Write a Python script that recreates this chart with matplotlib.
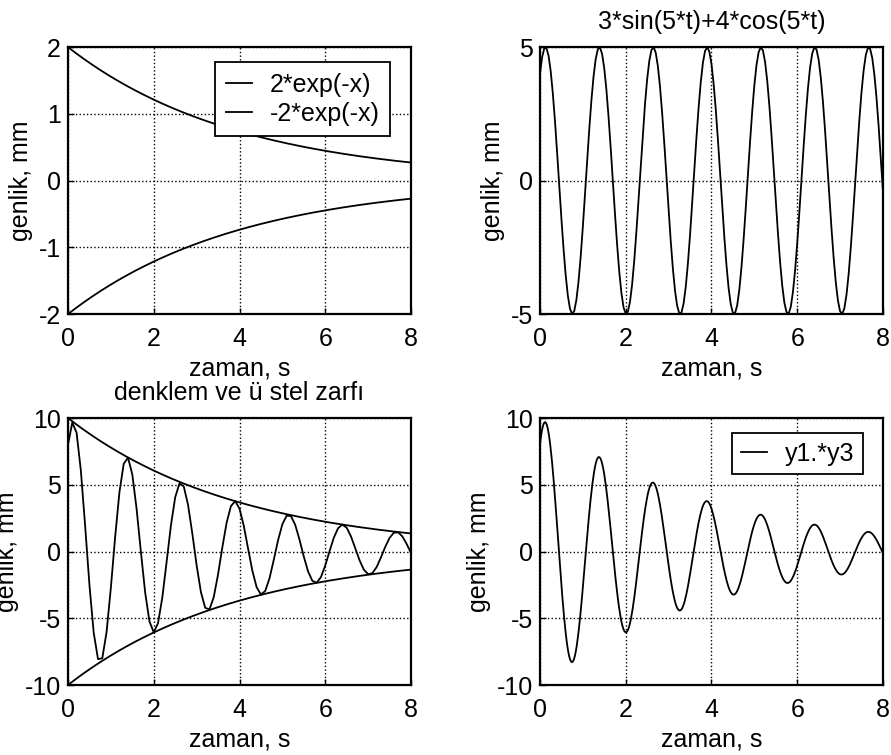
import numpy as np
import matplotlib
matplotlib.use('Agg')
import matplotlib.pyplot as plt

zarf_katsayi = 2.0        # 2*exp(...)
sonum = 0.25              # envelope goes 2 -> ~0.27 over 0..8
sin_katsayi = 3.0
cos_katsayi = 4.0
frekans = 5.0

t_ince = np.arange(0, 8.0001, 0.02)
t_orta = np.arange(0, 8.0001, 0.05)
t_kaba = np.arange(0, 8.0001, 0.1)

xticks = [0, 2, 4, 6, 8]
yticks_ust_sol = [-2, -1, 0, 1, 2]
yticks_ust_sag = [-5, 0, 5]
yticks_alt = [-10, -5, 0, 5, 10]

FS = 18
plt.rcParams['font.family'] = ['Liberation Sans', 'DejaVu Sans']
plt.rcParams['font.size'] = FS
plt.rcParams['axes.unicode_minus'] = False

fig = plt.figure(figsize=(8.91, 7.55), dpi=100)

w, h = 0.385, 0.3536
ax1 = fig.add_axes([0.0763, 0.584, w, h])
ax2 = fig.add_axes([0.606, 0.584, w, h])
ax3 = fig.add_axes([0.0763, 0.0927, w, h])
ax4 = fig.add_axes([0.606, 0.0927, w, h])


def stil(ax, yt):
    ax.set_xlim(0, 8)
    ax.set_xticks(xticks)
    ax.set_yticks(yt)
    ax.set_ylim(yt[0], yt[-1])
    ax.grid(True, color='black', linestyle=':', linewidth=1)
    ax.tick_params(direction='in', length=4, width=1, labelsize=FS)
    ax.tick_params(axis='x', pad=9)
    ax.tick_params(axis='y', pad=5)
    for s in ax.spines.values():
        s.set_linewidth(1.6)
    ax.set_xlabel('zaman, s', fontsize=FS, labelpad=4)
    ax.set_ylabel('genlik, mm', fontsize=FS, labelpad=4)


def y1(t):
    return zarf_katsayi * np.exp(-sonum * t)


def y3(t):
    return sin_katsayi * np.sin(frekans * t) + cos_katsayi * np.cos(frekans * t)


def lejant(ax, yer, aralik=0.12, kenar=0.35):
    leg = ax.legend(loc='upper right', bbox_to_anchor=yer, fancybox=False,
                    edgecolor='black', framealpha=1, handlelength=1.05,
                    handletextpad=0.7, borderpad=kenar, borderaxespad=0,
                    labelspacing=aralik, fontsize=FS)
    leg.get_frame().set_linewidth(1.3)


lw = 1.3
# ust sol
ax1.plot(t_ince, y1(t_ince), 'k-', lw=lw, label='2*exp(-x)')
ax1.plot(t_ince, -y1(t_ince), 'k-', lw=lw, label='-2*exp(-x)')
stil(ax1, yticks_ust_sol)
lejant(ax1, (0.939, 0.944), aralik=0.2, kenar=0.42)

# ust sag
ax2.plot(t_orta, y3(t_orta), 'k-', lw=lw)
stil(ax2, yticks_ust_sag)
ax2.set_title('3*sin(5*t)+4*cos(5*t)', fontsize=FS, pad=13)

# alt sol
zarf = 5 * y1(t_ince)
ax3.plot(t_kaba, y1(t_kaba) * y3(t_kaba), 'k-', lw=lw)
ax3.plot(t_ince, zarf, 'k-', lw=lw)
ax3.plot(t_ince, -zarf, 'k-', lw=lw)
stil(ax3, yticks_alt)
ax3.set_title('denklem ve ü stel zarfı', fontsize=FS, pad=13)

# alt sag
ax4.plot(t_ince, y1(t_ince) * y3(t_ince), 'k-', lw=lw, label='y1.*y3')
stil(ax4, yticks_alt)
lejant(ax4, (0.9415, 0.944))

plt.savefig('out.png', dpi=100)
plt.close()
